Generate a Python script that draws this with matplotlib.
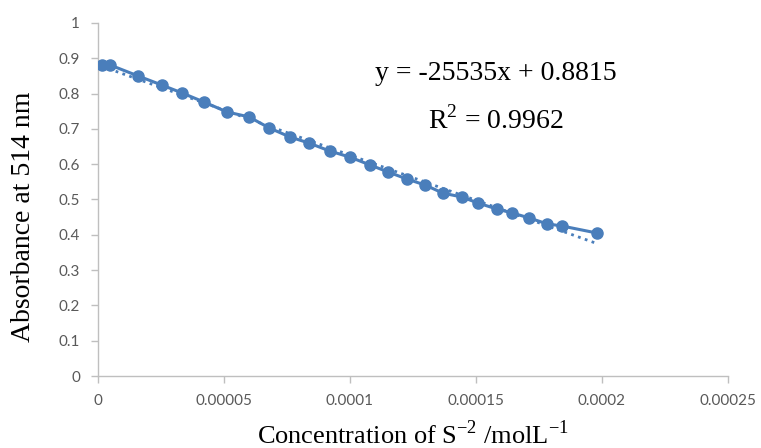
import matplotlib
matplotlib.use("Agg")
import matplotlib.pyplot as plt
import numpy as np

# Data
concentration = [1.6e-6, 4.8e-6, 1.59e-5, 2.54e-5, 3.33e-5, 4.21e-5, 5.12e-5, 5.99e-5,
                 6.79e-5, 7.62e-5, 8.37e-5, 9.21e-5, 1.00e-4, 1.079e-4, 1.151e-4,
                 1.226e-4, 1.298e-4, 1.369e-4, 1.444e-4, 1.508e-4, 1.583e-4, 1.643e-4,
                 1.710e-4, 1.782e-4, 1.841e-4, 1.980e-4]
absorbance = [0.881, 0.881, 0.850, 0.824, 0.802, 0.776, 0.748, 0.734, 0.703, 0.677,
              0.660, 0.637, 0.620, 0.598, 0.578, 0.558, 0.541, 0.518, 0.507, 0.490,
              0.473, 0.462, 0.448, 0.431, 0.425, 0.405]
equation_label = "y = -25535x + 0.8815"
r_squared_label = "0.9962"

x_ticks = [0, 0.00005, 0.0001, 0.00015, 0.0002, 0.00025]
x_tick_labels = ["0", "0.00005", "0.0001", "0.00015", "0.0002", "0.00025"]
y_ticks = [0, 0.1, 0.2, 0.3, 0.4, 0.5, 0.6, 0.7, 0.8, 0.9, 1]
y_tick_labels = ["0", "0.1", "0.2", "0.3", "0.4", "0.5", "0.6", "0.7", "0.8", "0.9", "1"]

blue = "#4a7ebb"
grey = "#bfbfbf"
tick_col = "#595959"

fig = plt.figure(figsize=(7.61, 4.48), dpi=100)
ax = fig.add_axes([98/761, 1-376/448, (728-98)/761, (376-23)/448])

ax.plot(concentration, absorbance, color=blue, lw=2.2, marker="o", ms=8,
        markerfacecolor=blue, markeredgecolor=blue, zorder=3)
# linear least-squares trendline (dotted), as in the spreadsheet chart
xarr = np.array(concentration)
slope, intercept = np.polyfit(xarr, np.array(absorbance), 1)
xf = np.array([xarr.min(), xarr.max()])
ax.plot(xf, slope*xf + intercept, color=blue, lw=2, ls=(0, (1, 1.6)), zorder=2)

ax.set_xlim(0, 0.00025)
ax.set_ylim(0, 1)
ax.set_xticks(x_ticks)
ax.set_xticklabels(x_tick_labels)
ax.set_yticks(y_ticks)
ax.set_yticklabels(y_tick_labels)
for lab in ax.get_xticklabels() + ax.get_yticklabels():
    lab.set_family(["Lato", "DejaVu Sans"])
    lab.set_fontsize(11)
    lab.set_color(tick_col)
ax.tick_params(axis="both", direction="out", length=5, width=1, color=grey, pad=8)
for s in ["top", "right"]:
    ax.spines[s].set_visible(False)
for s in ["left", "bottom"]:
    ax.spines[s].set_color(grey)
    ax.spines[s].set_linewidth(1)

serif = ["Liberation Serif", "DejaVu Serif"]
ax.set_ylabel("Absorbance at 514 nm", family=serif, fontsize=20)
ax.yaxis.set_label_coords(-0.098, 0.45)
ax.set_xlabel(r"Concentration of S$^{\mathregular{-2}}$ /molL$^{\mathregular{-1}}$",
              family=serif, fontsize=19)
ax.xaxis.set_label_coords(0.5, -0.125)

ax.text(0.000158, 0.857, equation_label, family=serif,
        fontsize=20, ha="center", va="center")
ax.text(0.000158, 0.725, r"R$^{\mathregular{2}}$ = " + r_squared_label, family=serif,
        fontsize=20, ha="center", va="center")

fig.savefig("out.png", dpi=100)
